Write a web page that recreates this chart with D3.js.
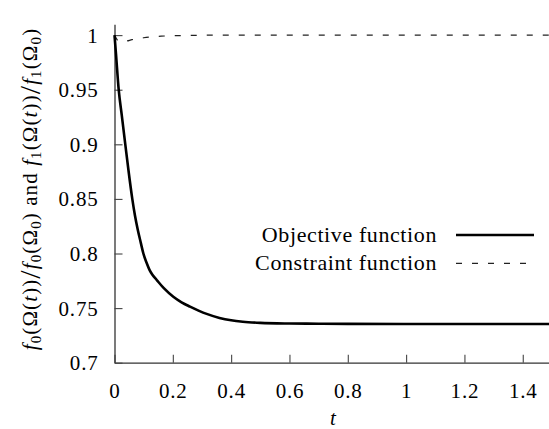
<!DOCTYPE html>
<html>
<head>
<meta charset="utf-8">
<script src="https://cdn.jsdelivr.net/npm/d3@7"></script>
<style>
  body { margin: 0; background: #fff; }
</style>
</head>
<body>
<svg id="chart" width="549" height="429"></svg>
<script>
// Objective function f0(Ω(t))/f0(Ω0)
const tObjective = [0, 0.005, 0.0144, 0.025, 0.037, 0.048, 0.061, 0.07, 0.08, 0.09, 0.099, 0.11, 0.12, 0.13, 0.145, 0.17, 0.2017, 0.23, 0.259, 0.29, 0.316, 0.36, 0.4, 0.44, 0.5, 0.6, 0.7, 0.8, 1.0, 1.2, 1.49];
const objective = [1.0, 0.983, 0.95, 0.9265, 0.9, 0.876, 0.85, 0.835, 0.8215, 0.81, 0.8, 0.7915, 0.785, 0.7805, 0.7757, 0.768, 0.7604, 0.7553, 0.7513, 0.7475, 0.7447, 0.741, 0.7388, 0.7375, 0.7365, 0.7359, 0.7357, 0.7356, 0.7355, 0.7355, 0.7355];

// Constraint function f1(Ω(t))/f1(Ω0)
const tConstraint = [0, 0.01, 0.02, 0.04, 0.06, 0.1, 0.16, 0.25, 0.4, 0.8, 1.49];
const constraint = [1.0, 0.9955, 0.994, 0.9945, 0.9958, 0.9976, 0.999, 0.9997, 1.0, 1.0, 1.0];

const xTicks = [0, 0.2, 0.4, 0.6, 0.8, 1, 1.2, 1.4];
const yTicks = [0.7, 0.75, 0.8, 0.85, 0.9, 0.95, 1];
const seriesNames = ["Objective function", "Constraint function"];

const serif = "'Liberation Serif', 'DejaVu Serif', 'Noto Serif', 'Times New Roman', FreeSerif, serif";

const svg = d3.select("#chart").attr("font-family", serif);

const x = d3.scaleLinear().domain([0, 1.49]).range([114.5, 549]);
const y = d3.scaleLinear().domain([0.7, 1.01]).range([362.7, 24.2]);

//_________________ Axes (left + bottom only, ticks point inward)
const xAxis = svg.append("g")
  .attr("transform", `translate(0,${y(0.7)})`)
  .call(d3.axisBottom(x).tickValues(xTicks).tickSizeInner(-8).tickSizeOuter(0)
    .tickFormat(d => d3.format("")(d)));
const yAxis = svg.append("g")
  .attr("transform", `translate(${x(0)},0)`)
  .call(d3.axisLeft(y).tickValues(yTicks).tickSizeInner(-8).tickSizeOuter(0)
    .tickFormat(d => d3.format("")(d)));

[xAxis, yAxis].forEach(a => {
  a.attr("font-family", serif).attr("font-size", 21);
  a.select(".domain").attr("stroke", "#333").attr("stroke-width", 1.3);
  a.selectAll(".tick line").attr("stroke", "#444").attr("stroke-width", 1.1);
  a.selectAll(".tick text").attr("fill", "#000").attr("letter-spacing", 0.8);
});
xAxis.selectAll(".tick text").attr("y", 0).attr("dy", 0).attr("transform", "translate(0,35)");
yAxis.selectAll(".tick text").attr("x", -16).attr("dy", "0.33em");

//_________________ Lines
const line = d3.line().x(d => x(d[0])).y(d => y(d[1])).curve(d3.curveMonotoneX);

svg.append("path")
  .datum(d3.zip(tConstraint, constraint))
  .attr("d", line)
  .attr("fill", "none")
  .attr("stroke", "#222")
  .attr("stroke-width", 1.2)
  .attr("stroke-dasharray", "6,10");

svg.append("path")
  .datum(d3.zip(tObjective, objective))
  .attr("d", line)
  .attr("fill", "none")
  .attr("stroke", "#000")
  .attr("stroke-width", 2.6);

//_________________ Legend
const legend = svg.append("g");
seriesNames.forEach((name, i) => {
  const ly = 235 + i * 28.3;
  legend.append("text")
    .attr("x", 437).attr("y", ly + 7)
    .attr("text-anchor", "end")
    .attr("font-size", 22)
    .attr("letter-spacing", 0.6)
    .text(name);
  legend.append("line")
    .attr("x1", 456).attr("x2", i === 0 ? 534 : 526)
    .attr("y1", ly).attr("y2", ly)
    .attr("stroke", i === 0 ? "#000" : "#222")
    .attr("stroke-width", i === 0 ? 2.6 : 1.2)
    .attr("stroke-dasharray", i === 0 ? null : "6,10");
});

//_________________ Axis titles
svg.append("text")
  .attr("x", 333).attr("y", 425)
  .attr("text-anchor", "middle")
  .attr("font-size", 21)
  .attr("font-style", "italic")
  .text("t");

const yl = svg.append("text")
  .attr("transform", "translate(37,189) rotate(-90)")
  .attr("text-anchor", "middle")
  .attr("font-size", 21)
  .attr("letter-spacing", 1.1);

function ratio(idx) {
  yl.append("tspan").attr("font-style", "italic").text("f");
  yl.append("tspan").attr("font-size", 15).attr("dy", 4).text(idx);
  yl.append("tspan").attr("dy", -4).text("(Ω(");
  yl.append("tspan").attr("font-style", "italic").text("t");
  yl.append("tspan").text("))");
  yl.append("tspan").attr("font-size", 30).attr("dy", 3).text("/");
  yl.append("tspan").attr("font-style", "italic").attr("dy", -3).text("f");
  yl.append("tspan").attr("font-size", 15).attr("dy", 4).text(idx);
  yl.append("tspan").attr("dy", -4).text("(Ω");
  yl.append("tspan").attr("font-size", 15).attr("dy", 4).text("0");
  yl.append("tspan").attr("dy", -4).text(")");
}
ratio("0");
yl.append("tspan").text(" and ");
ratio("1");
</script>
</body>
</html>
